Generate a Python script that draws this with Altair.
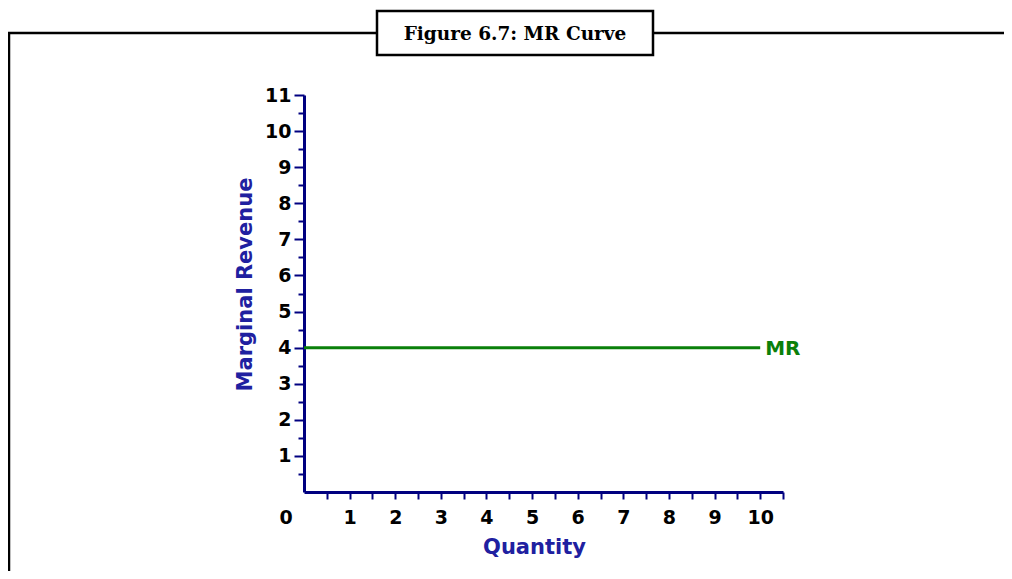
import altair as alt
import pandas as pd

# Data
quantity = [0, 10]
marginal_revenue = [4, 4]
curve_label = "MR"
x_ticks = [i / 2 for i in range(1, 22)]   # 0.5 .. 10.5
y_ticks = [i / 2 for i in range(1, 23)]   # 0.5 .. 11
title_text = "Figure 6.7: MR Curve"

W, H = 479, 397
PL, PT = 296, 87
TOTAL_W, TOTAL_H = 996, 563
NAVY = "#000080"
TITLE_BLUE = "#2020a0"
GREEN = "#0a800a"

line_df = pd.DataFrame({"q": quantity, "mr": marginal_revenue})
label_df = pd.DataFrame({"q": [quantity[-1]], "mr": [marginal_revenue[-1]], "t": [curve_label]})
origin_df = pd.DataFrame({"q": [0], "mr": [0], "t": ["0"]})
one = alt.Data(values=[{"a": 1}])

xs = alt.Scale(domain=[0, 10.5], nice=False, zero=False)
ys = alt.Scale(domain=[0, 11], nice=False, zero=False)

lab_expr = "datum.value % 1 == 0 ? format(datum.value, 'd') : ''"

x_axis = alt.Axis(values=x_ticks, tickCount=60, title="Quantity", labelExpr=lab_expr,
                  labelOverlap=False, tickSize=7, labelPadding=9,
                  titlePadding=9, titleX=230)
y_axis = alt.Axis(values=y_ticks, tickCount=60, title="Marginal Revenue", labelExpr=lab_expr,
                  labelOverlap=False,
                  tickSize={"expr": "datum.value % 1 == 0 ? 10 : 6"},
                  labelPadding=3, titlePadding=9, titleY=189)

line = alt.Chart(line_df).mark_line(color=GREEN, strokeWidth=3).encode(
    x=alt.X("q:Q", scale=xs, axis=x_axis),
    y=alt.Y("mr:Q", scale=ys, axis=y_axis),
)

mr_text = alt.Chart(label_df).mark_text(
    color=GREEN, font="DejaVu Sans", fontWeight="bold", fontSize=20,
    align="left", baseline="middle", dx=5, dy=1,
).encode(x=alt.X("q:Q", scale=xs), y=alt.Y("mr:Q", scale=ys), text="t:N")

zero_text = alt.Chart(origin_df).mark_text(
    color="black", font="DejaVu Sans", fontWeight="bold", fontSize=19,
    align="center", baseline="middle", dx=-18, dy=26,
).encode(x=alt.X("q:Q", scale=xs), y=alt.Y("mr:Q", scale=ys), text="t:N")

# Frame decorations (pixel positions relative to the plot area)
ox, oy = PL + 8, PT + 8
frame_h = alt.Chart(one).mark_rule(color="black", strokeWidth=2.5).encode(
    x=alt.value(8 - ox), x2=alt.value(1012 - ox), y=alt.value(33 - oy))
frame_v = alt.Chart(one).mark_rule(color="black", strokeWidth=2.5).encode(
    x=alt.value(9 - ox), y=alt.value(33 - oy), y2=alt.value(590 - oy))
box = alt.Chart(one).mark_rect(fill="white", stroke="black", strokeWidth=2.5).encode(
    x=alt.value(377 - ox), x2=alt.value(653 - ox), y=alt.value(11 - oy), y2=alt.value(55 - oy))
box_text = alt.Chart(one).mark_text(
    text=title_text, font="DejaVu Serif", fontWeight="bold", fontSize=18.5,
    align="center", baseline="middle", color="black",
).encode(x=alt.value(515 - ox), y=alt.value(34 - oy))

chart = alt.layer(frame_h, frame_v, box, box_text, line, mr_text, zero_text).properties(
    width=W, height=H,
    autosize=alt.AutoSizeParams(type="none"),
    padding={"left": PL, "top": PT, "right": TOTAL_W - PL - W, "bottom": TOTAL_H - PT - H},
    background="white",
).configure_view(stroke=None).configure_axis(
    grid=False,
    domainColor=NAVY, domainWidth=3,
    tickColor=NAVY, tickWidth=2,
    labelColor="black", labelFont="DejaVu Sans", labelFontWeight="bold",
    labelFontSize=19,
    titleColor=TITLE_BLUE, titleFont="DejaVu Sans", titleFontWeight="bold",
    titleFontSize=21,
)

chart.save("out.html", embed_options={"renderer": "svg", "actions": False})
